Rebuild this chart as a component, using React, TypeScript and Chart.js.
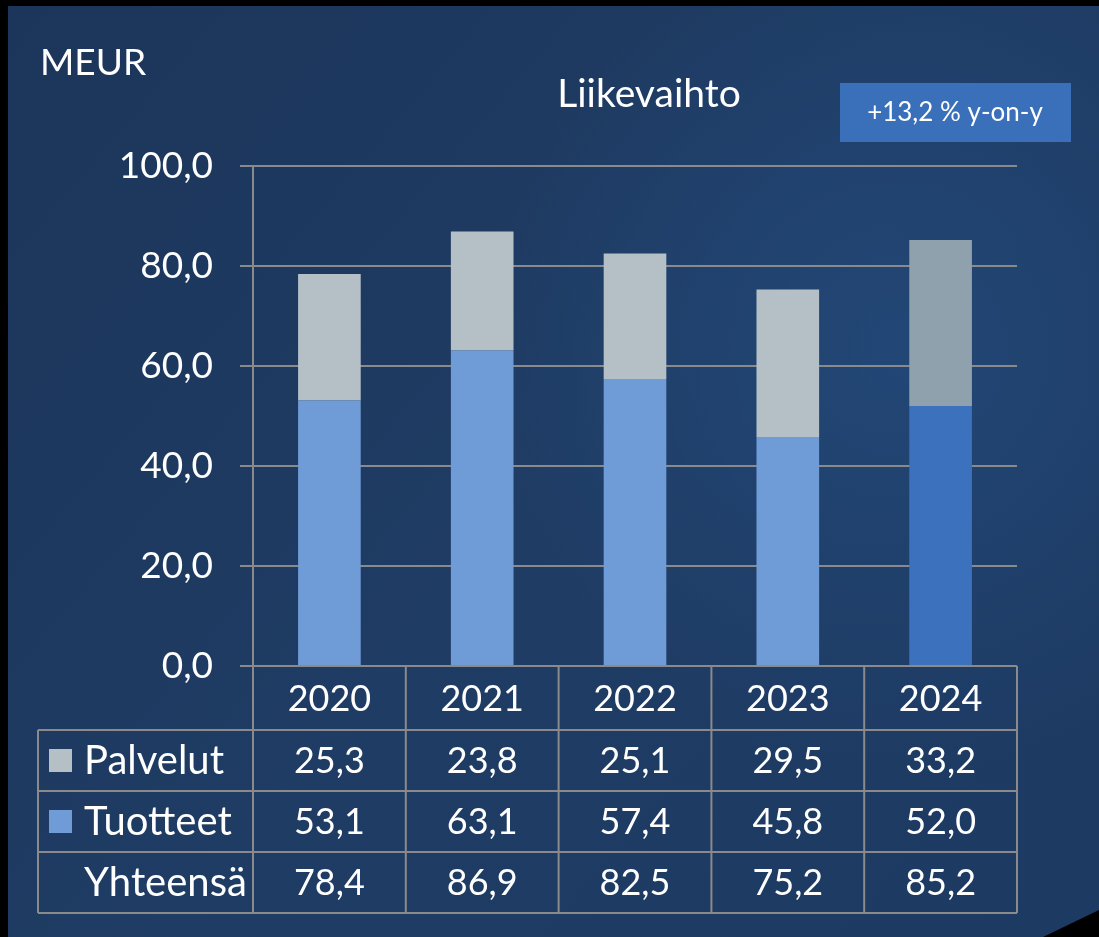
import React, { useEffect, useRef } from "react";
import { Chart, registerables } from "chart.js";

Chart.register(...registerables);

const years = ["2020", "2021", "2022", "2023", "2024"];
const palvelut = [25.3, 23.8, 25.1, 29.5, 33.2];
const tuotteet = [53.1, 63.1, 57.4, 45.8, 52.0];
const yhteensa = [78.4, 86.9, 82.5, 75.2, 85.2];
const yTicks = [0, 20, 40, 60, 80, 100];

const FONT = "Lato, 'Open Sans', sans-serif";
const W = 1099;
const H = 937;
const GRID = "#8a8a8a";

const fmt = (v: number) => v.toFixed(1).replace(".", ",");

const palColors = ["#b4bfc6", "#b4bfc6", "#b4bfc6", "#b4bfc6", "#8fa1ac"];
const tuoColors = ["#6f9bd6", "#6f9bd6", "#6f9bd6", "#6f9bd6", "#3c71bd"];

const bgPlugin = {
  id: "bg",
  beforeDraw(chart: any) {
    const ctx = chart.ctx;
    ctx.save();
    ctx.fillStyle = "#000";
    ctx.fillRect(0, 0, W, H);
    const g = ctx.createLinearGradient(0, 0, W, H);
    g.addColorStop(0, "#1c355a");
    g.addColorStop(0.5, "#1f3c64");
    g.addColorStop(1, "#1d3a62");
    ctx.fillStyle = g;
    ctx.fillRect(8, 6, W - 8, H - 6);
    const rg = ctx.createRadialGradient(900, 350, 20, 900, 350, 420);
    rg.addColorStop(0, "rgba(40,90,150,0.35)");
    rg.addColorStop(1, "rgba(40,90,150,0)");
    ctx.fillStyle = rg;
    ctx.fillRect(8, 6, W - 8, H - 6);
    ctx.fillStyle = "#000";
    ctx.beginPath();
    ctx.moveTo(1043, H);
    ctx.lineTo(W, 910);
    ctx.lineTo(W, H);
    ctx.closePath();
    ctx.fill();
    ctx.restore();
  },
};

const decorPlugin = {
  id: "decor",
  afterDraw(chart: any) {
    const ctx = chart.ctx;
    const area = chart.chartArea;
    ctx.save();
    ctx.fillStyle = "#ffffff";
    ctx.textBaseline = "middle";
    // unit + title
    ctx.font = `37px ${FONT}`;
    ctx.textAlign = "left";
    ctx.fillText("MEUR", 40, 63);
    ctx.textAlign = "center";
    ctx.font = `39px ${FONT}`;
    ctx.fillText("Liikevaihto", 649, 94);
    // badge
    ctx.fillStyle = "#3a6fb9";
    ctx.fillRect(840, 83, 231, 59);
    ctx.fillStyle = "#ffffff";
    ctx.font = `26px ${FONT}`;
    ctx.fillText("+13,2 % y-on-y", 955, 113);

    // data table
    const left = area.left;
    const right = area.right;
    const colW = (right - left) / years.length;
    const top = area.bottom;
    const rowTops = [top, top + 64, top + 125, top + 186, top + 247];
    const tableLeft = 38;

    ctx.strokeStyle = GRID;
    ctx.lineWidth = 2;
    ctx.beginPath();
    ctx.moveTo(left, rowTops[0]);
    ctx.lineTo(right, rowTops[0]);
    for (let r = 1; r < rowTops.length; r++) {
      ctx.moveTo(tableLeft, rowTops[r]);
      ctx.lineTo(right, rowTops[r]);
    }
    ctx.moveTo(tableLeft, rowTops[1]);
    ctx.lineTo(tableLeft, rowTops[4]);
    for (let i = 0; i <= years.length; i++) {
      const x = left + i * colW;
      ctx.moveTo(x, i === 0 ? area.top : rowTops[0]);
      ctx.lineTo(x, rowTops[4]);
    }
    ctx.stroke();

    ctx.fillStyle = "#ffffff";
    ctx.font = `36px ${FONT}`;
    ctx.textAlign = "center";
    const xs = chart.scales.x;
    const rows = [years, palvelut.map(fmt), tuotteet.map(fmt), yhteensa.map(fmt)];
    rows.forEach((row, r) => {
      const cy = (rowTops[r] + rowTops[r + 1]) / 2 + 1;
      row.forEach((t, i) => {
        ctx.fillText(t, xs.getPixelForValue(i), cy);
      });
    });

    const labels = [
      { text: "Palvelut", color: palColors[0] },
      { text: "Tuotteet", color: tuoColors[0] },
      { text: "Yhteensä", color: null },
    ];
    ctx.textAlign = "left";
    ctx.font = `40px ${FONT}`;
    labels.forEach((l, k) => {
      const cy = (rowTops[k + 1] + rowTops[k + 2]) / 2;
      if (l.color) {
        ctx.fillStyle = l.color;
        ctx.fillRect(49, cy - 11.5, 23, 23);
      }
      ctx.fillStyle = "#ffffff";
      ctx.fillText(l.text, 84, cy + 1);
    });
    ctx.restore();
  },
};

export default function App() {
  const ref = useRef<HTMLCanvasElement>(null);
  useEffect(() => {
    if (!ref.current) return;
    const chart = new Chart(ref.current, {
      type: "bar",
      data: {
        labels: years,
        datasets: [
          {
            label: "Tuotteet",
            data: tuotteet,
            backgroundColor: tuoColors,
            barPercentage: 0.41,
            categoryPercentage: 1,
            stack: "s",
          },
          {
            label: "Palvelut",
            data: palvelut,
            backgroundColor: palColors,
            barPercentage: 0.41,
            categoryPercentage: 1,
            stack: "s",
          },
        ],
      },
      options: {
        responsive: false,
        animation: false,
        layout: { padding: { top: 166, bottom: H - 666, right: W - 1017, left: 0 } },
        plugins: {
          legend: { display: false },
          tooltip: { enabled: false },
          title: { display: false },
        },
        scales: {
          x: { display: false, stacked: true },
          y: {
            stacked: true,
            min: 0,
            max: 100,
            afterFit: (s: any) => {
              s.width = 253;
            },
            afterBuildTicks: (s: any) => {
              s.ticks = yTicks.map((v) => ({ value: v }));
            },
            ticks: {
              color: "#ffffff",
              font: { family: FONT, size: 37 },
              padding: 27,
              callback: (v: any) => fmt(Number(v)),
            },
            grid: { color: GRID, lineWidth: 2, tickLength: 13, tickColor: GRID },
            border: { display: true, color: GRID, width: 2 },
          },
        },
      },
      plugins: [bgPlugin, decorPlugin],
    });
    return () => chart.destroy();
  }, []);
  return (
    <div style={{ position: "fixed", left: 0, top: 0, width: W, height: H, background: "#000" }}>
      <canvas ref={ref} width={W} height={H} style={{ display: "block" }} />
    </div>
  );
}
